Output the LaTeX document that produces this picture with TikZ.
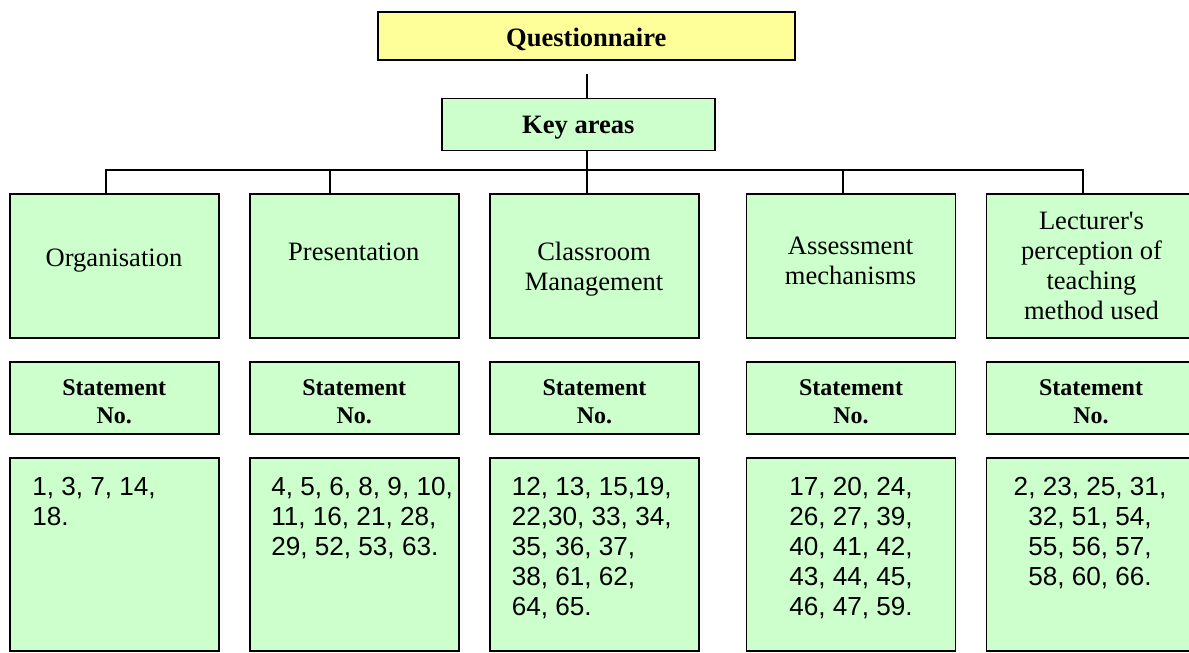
\documentclass[tikz,border=0pt]{standalone}
\usepackage{fontspec}
\setmainfont{Liberation Serif}
\newfontfamily\numfont{Liberation Sans}
\definecolor{boxgreen}{HTML}{CCFFCC}
\definecolor{boxyellow}{HTML}{FFFF99}
% multi-line cell whose baseline is that of its first line
\newcommand\cstack[1]{\begin{tabular}[t]{@{}c@{}}#1\end{tabular}}
\newcommand\lstack[1]{\begin{tabular}[t]{@{}l@{}}#1\end{tabular}}

\begin{document}
\begin{tikzpicture}[x=0.75pt,y=-0.75pt,
  basebox/.style={draw=black, line width=1.2pt, inner sep=0pt, fill=boxgreen},
  areabox/.style={basebox, minimum width=209*0.75pt, minimum height=144*0.75pt},
  stmtbox/.style={basebox, minimum width=209*0.75pt, minimum height=72*0.75pt},
  numbox/.style={basebox, minimum width=209*0.75pt, minimum height=193*0.75pt},
  conn/.style={line width=1.2pt},
  headtext/.style={font=\fontsize{19.9}{22.5}\selectfont\bfseries, anchor=base, inner sep=0pt},
  areatext/.style={font=\fontsize{19.9}{22.5}\selectfont, anchor=base, inner sep=0pt},
  stmttext/.style={font=\fontsize{18}{21}\selectfont\bfseries, anchor=base, inner sep=0pt},
  numtext/.style={font=\numfont\fontsize{19.6}{22.6}\selectfont, inner sep=0pt},
]
\useasboundingbox (0,0) rectangle (1189,653);

% top of the hierarchy
\node[basebox, fill=boxyellow, minimum width=417*0.75pt, minimum height=48*0.75pt] (quest) at (586.5,36) {};
\node[headtext] (questlbl) at (586.3,46.7) {Questionnaire};
\node[basebox, minimum width=273*0.75pt, minimum height=52*0.75pt] (key) at (578.5,124.5) {};
\node[headtext] (keylbl) at (578.3,133.3) {Key areas};

% key areas
\node[areabox] (org)    at (114.25,266) {};
\node[areabox] (pres)   at (354.25,266) {};
\node[areabox] (class)  at (594.5,266)  {};
\node[areabox] (assess) at (851,266)    {};
\node[areabox] (lect)   at (1091,266)   {};

\node[areatext] (orglbl)    at (114,266.7)   {Organisation};
\node[areatext] (preslbl)   at (353.8,260.7) {Presentation};
\node[areatext] (classlbl)  at (594,260.7)   {\cstack{Classroom\\Management}};
\node[areatext] (assesslbl) at (850.5,254.3) {\cstack{Assessment\\mechanisms}};
\node[areatext] (lectlbl)   at (1091.5,229)  {\cstack{Lecturer\textquotesingle s\\perception of\\teaching\\method used}};

% statement headers
\node[stmtbox] (orgst)    at (114.25,398) {};
\node[stmtbox] (presst)   at (354.25,398) {};
\node[stmtbox] (classst)  at (594.5,398)  {};
\node[stmtbox] (assessst) at (851,398)    {};
\node[stmtbox] (lectst)   at (1091,398)   {};
\foreach \n/\cx in {orgst/114.25, presst/354.25, classst/594.5, assessst/851, lectst/1091}
  \node[stmttext] (\n lbl) at (\cx,395.7) {\cstack{Statement\\No.}};

% statement numbers
\node[numbox] (orgnum)    at (114.25,554.5) {};
\node[numbox] (presnum)   at (354.25,554.5) {};
\node[numbox] (classnum)  at (594.5,554.5)  {};
\node[numbox] (assessnum) at (851,554.5)    {};
\node[numbox] (lectnum)   at (1091,554.5)   {};

\node[numtext, anchor=base west] (orgnumlbl) at (32,495)
  {\lstack{1, 3, 7, 14,\\18.}};
\node[numtext, anchor=base west] (presnumlbl) at (271,495)
  {\lstack{4, 5, 6, 8, 9, 10,\\11, 16, 21, 28,\\29, 52, 53, 63.}};
\node[numtext, anchor=base west] (classnumlbl) at (511.5,495)
  {\lstack{12, 13, 15,19,\\22,30, 33, 34,\\35, 36, 37,\\38, 61, 62,\\64, 65.}};
\node[numtext, anchor=base] (assessnumlbl) at (851,495)
  {\cstack{17, 20, 24,\\26, 27, 39,\\40, 41, 42,\\43, 44, 45,\\46, 47, 59.}};
\node[numtext, anchor=base] (lectnumlbl) at (1090,495)
  {\cstack{2, 23, 25, 31,\\32, 51, 54,\\55, 56, 57,\\58, 60, 66.}};

% connectors
\coordinate (qdrop) at (586.7,74);
\coordinate (busL)  at (106,170);
\coordinate (busR)  at (1083,170);
\coordinate (tapP)  at (330,170);
\coordinate (tapA)  at (842.7,170);
\draw[conn] (qdrop) -- (qdrop |- key.north);
\draw[conn] (key.south -| qdrop) -- (qdrop |- class.north);
\draw[conn] (busL |- org.north) -- (busL) -- (busR) -- (busR |- lect.north);
\draw[conn] (tapP) -- (tapP |- pres.north);
\draw[conn] (tapA) -- (tapA |- assess.north);
\end{tikzpicture}
\end{document}
